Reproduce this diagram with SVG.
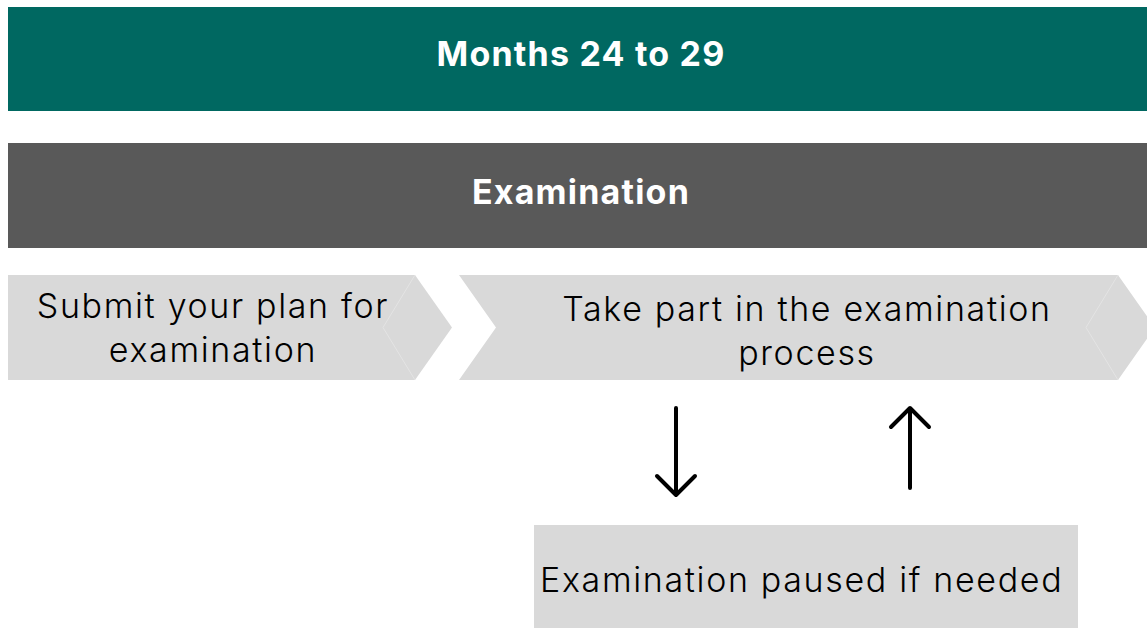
<svg xmlns="http://www.w3.org/2000/svg" width="1147" height="628" viewBox="0 0 1147 628">
  <style>
    .banner-text { font-family: Inter, "Liberation Sans", sans-serif; font-weight: 700; font-size: 34px; letter-spacing: 1.2px; fill: #ffffff; text-anchor: middle; }
    .step { fill: #d9d9d9; }
    .seam { fill: none; stroke: #e4e4e4; stroke-width: 1; }
    .step-text { font-family: Inter, "Liberation Sans", sans-serif; font-weight: 300; font-size: 34px; letter-spacing: 1.65px; fill: #000000; }
    .flow { fill: none; stroke: #000000; stroke-width: 4; stroke-linecap: round; stroke-linejoin: round; }
  </style>
  <rect width="1147" height="628" fill="#ffffff"/>

  <g id="period">
    <rect x="8" y="7" width="1139" height="104" fill="#006861"/>
    <text class="banner-text" x="581" y="66">Months 24 to 29</text>
  </g>

  <g id="stage">
    <rect x="8" y="143" width="1139" height="105" fill="#595959"/>
    <text class="banner-text" x="581" y="204">Examination</text>
  </g>

  <g id="submit">
    <polygon class="step" points="8,275 415,275 452,327.5 415,380 8,380"/>
    <polyline class="seam" points="415,275 383,327.5 415,380"/>
    <text class="step-text" text-anchor="middle" x="213" y="318">Submit your plan for</text>
    <text class="step-text" text-anchor="middle" x="213" y="362">examination</text>
  </g>

  <g id="take-part">
    <polygon class="step" points="459,275 1118,275 1155,327.5 1118,380 459,380 496,327.5"/>
    <polyline class="seam" points="1118,275 1086,327.5 1118,380"/>
    <text class="step-text" text-anchor="middle" x="807" y="321">Take part in the examination</text>
    <text class="step-text" text-anchor="middle" x="807" y="365">process</text>
  </g>

  <g id="paused">
    <rect class="step" x="534" y="525" width="544" height="103"/>
    <text class="step-text" x="540" y="592">Examination paused if needed</text>
  </g>

  <g id="connectors">
    <path class="flow" d="M676,408 V494 M657,476 L676,495 L695,476"/>
    <path class="flow" d="M910,488 V409 M891,427 L910,408 L929,427"/>
  </g>
</svg>
